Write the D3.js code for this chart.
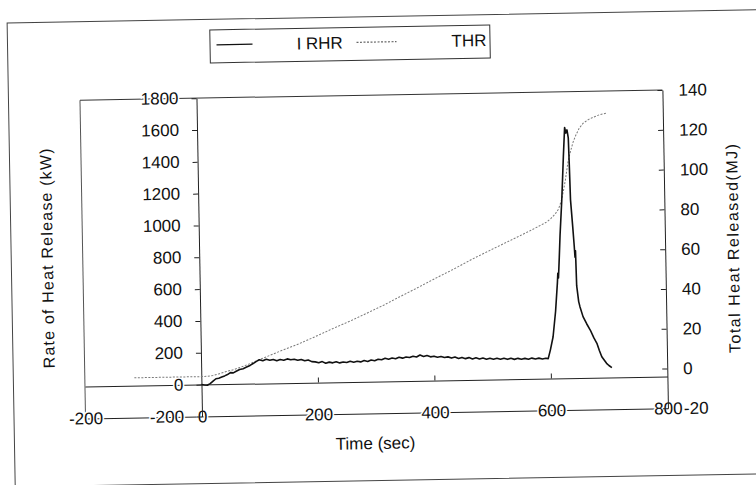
<!DOCTYPE html>
<meta charset="utf-8">
<script src="https://d3js.org/d3.v7.min.js"></script>
<style>
  body { margin: 0; background: #fff; }
  text { font-family: "Liberation Sans", Arial, sans-serif; fill: #111; }
</style>
<body>
<div id="chart"></div>
<script>
// heat release test data
var rhrTime = [0, 5, 10, 15, 20, 25, 30, 35, 40, 45, 50, 55, 60, 66, 72, 78, 84, 90, 95,
  100, 106, 112, 118, 124, 130, 136, 142, 148, 154, 160, 166, 172, 178, 184, 190, 196,
  202, 208, 214, 220, 226, 232, 238, 244, 250, 256, 262, 268, 274, 280, 286, 292, 298,
  304, 310, 316, 322, 328, 334, 340, 346, 352, 358, 364, 370, 376, 382, 388, 394, 400,
  406, 412, 418, 424, 430, 436, 442, 448, 454, 460, 466, 472, 478, 484, 490, 496, 502,
  508, 514, 520, 526, 532, 538, 544, 550, 556, 562, 568, 574, 580, 586, 592, 596,
  600, 605, 610, 614, 615, 616, 618, 620, 624, 628, 631, 633, 635, 637, 638, 639, 642,
  644, 645, 646, 647, 650, 652, 657, 663, 669, 675, 680, 684, 688, 692, 696, 700, 705];
var rhrValue = [0, -3, -5, 5, 20, 35, 38, 45, 52, 60, 72, 70, 80, 90, 95, 105, 115, 128, 140,
  150, 143, 152, 145, 150, 141, 149, 144, 152, 146, 149, 142, 147, 138, 143, 132, 130,
  124, 131, 120, 127, 122, 129, 121, 126, 123, 130, 124, 129, 125, 133, 127, 136, 131,
  140, 136, 145, 139, 146, 141, 150, 144, 151, 147, 155, 150, 162, 152, 158, 149, 153,
  146, 150, 143, 147, 139, 145, 136, 142, 134, 140, 131, 138, 130, 136, 128, 134, 127,
  133, 126, 132, 125, 131, 124, 130, 124, 129, 123, 130, 124, 129, 123, 128, 125,
  180, 262, 420, 600, 660, 630, 760, 900, 1120, 1392, 1575, 1540, 1560, 1510, 1330, 1120, 950,
  830, 760, 800, 580, 480, 448, 385, 340, 300, 250, 216, 170, 131, 110, 89, 75, 62];

var thrTime = [-115, -60, 0, 10, 20, 30, 43, 55, 67, 84, 101, 135, 170, 200, 228, 257, 286,
  315, 343, 372, 401, 435, 468, 507, 546, 572, 597, 605, 612, 618, 623, 627, 631, 636,
  640, 645, 650, 656, 663, 672, 681, 692, 704];
var thrValue = [0, 0, 0, 0.1, 0.5, 1.2, 2.3, 3.2, 4.3, 6.1, 8.1, 12.0, 15.8, 19.5, 23.1, 26.6, 30.4,
  34.3, 38.4, 42.5, 46.8, 51.6, 56.6, 62.0, 67.3, 70.9, 74.6, 76.5, 78.5, 81, 85, 90, 96, 105,
  109.5, 114.5, 118, 121.5, 124, 125.8, 127, 128.2, 128.9];

var xTicks = [-200, 0, 200, 400, 600, 800];
var leftTicks = [-200, 0, 200, 400, 600, 800, 1000, 1200, 1400, 1600, 1800];
var rightTicks = [-20, 0, 20, 40, 60, 80, 100, 120, 140];

var W = 756, H = 485;
var plain = function(d) { return String(d); };

var svg = d3.select("#chart").append("svg")
    .attr("width", W)
    .attr("height", H)
    .style("display", "block");

svg.append("rect").attr("width", W).attr("height", H).attr("fill", "#fff");

// the scan is tilted by about one degree
var g = svg.append("g").attr("transform", "rotate(-1 378 242)");

// outer chart border
g.append("rect")
    .attr("x", 11).attr("y", 16.5)
    .attr("width", 765).attr("height", 464)
    .attr("fill", "none").attr("stroke", "#444");

var x = d3.scaleLinear().domain([-200, 800]).range([82.5, 665]);
var yL = d3.scaleLinear().domain([-200, 1800]).range([413.3, 95]);
var yR = d3.scaleLinear().domain([-20, 140]).range([413.3, 95]);

// frame: top and left edges
g.append("line")
    .attr("x1", x(-200)).attr("x2", x(800))
    .attr("y1", yL(1800)).attr("y2", yL(1800))
    .attr("stroke", "#333");
g.append("line")
    .attr("x1", x(-200)).attr("x2", x(-200))
    .attr("y1", yL(-200)).attr("y2", yL(1800))
    .attr("stroke", "#555");

function styleAxis(sel) {
  sel.selectAll("path, line").attr("stroke", "#222");
  sel.selectAll("text")
      .attr("font-size", 17)
      .attr("font-family", '"Liberation Sans", Arial, sans-serif')
      .attr("fill", "#111");
}

// zero line with time ticks
var zeroAxis = g.append("g")
    .attr("transform", "translate(0," + yL(0) + ")")
    .call(d3.axisTop(x).tickValues([200, 400, 600]).tickSize(5).tickSizeOuter(0).tickFormat(""));
styleAxis(zeroAxis);

// bottom edge with time labels sitting on it
var bottomAxis = g.append("g")
    .attr("transform", "translate(0," + yL(-200) + ")")
    .call(d3.axisBottom(x).tickValues(xTicks).tickSize(0).tickSizeOuter(0).tickFormat(plain));
styleAxis(bottomAxis);
bottomAxis.selectAll("text")
    .attr("y", 0).attr("dy", "0.35em")
    .attr("stroke", "#fff").attr("stroke-width", 3).attr("paint-order", "stroke");

// left axis at t = 0
var leftAxis = g.append("g")
    .attr("transform", "translate(" + x(0) + ",0)")
    .call(d3.axisLeft(yL).tickValues(leftTicks).tickSize(5).tickSizeOuter(0).tickPadding(13).tickFormat(plain));
styleAxis(leftAxis);
leftAxis.selectAll("text")
    .attr("dy", "0.3em")
    .attr("stroke", "#fff").attr("stroke-width", 3).attr("paint-order", "stroke");

// right axis (THR)
var rightAxis = g.append("g")
    .attr("transform", "translate(" + x(800) + ",0)")
    .call(d3.axisRight(yR).tickValues(rightTicks).tickSize(-5).tickSizeOuter(0).tickPadding(16).tickFormat(plain));
styleAxis(rightAxis);
rightAxis.selectAll("text").attr("dy", "0.33em");

// series
var rhrData = d3.zip(rhrTime, rhrValue);
var thrData = d3.zip(thrTime, thrValue);

g.append("path")
    .datum(thrData)
    .attr("fill", "none")
    .attr("stroke", "#7a7a7a")
    .attr("stroke-width", 1)
    .attr("stroke-dasharray", "2,1.5")
    .attr("d", d3.line().x(function(d) { return x(d[0]); }).y(function(d) { return yR(d[1]); }));

g.append("path")
    .datum(rhrData)
    .attr("fill", "none")
    .attr("stroke", "#111")
    .attr("stroke-width", 1.6)
    .attr("stroke-linejoin", "round")
    .attr("d", d3.line().x(function(d) { return x(d[0]); }).y(function(d) { return yL(d[1]); }));

// axis titles
g.append("text")
    .attr("transform", "translate(47,252) rotate(-90)")
    .attr("text-anchor", "middle")
    .attr("dy", "0.35em")
    .attr("font-size", 16)
    .attr("letter-spacing", "1.2px")
    .text("Rate of Heat Release (kW)");

g.append("text")
    .attr("transform", "translate(733,254) rotate(-90)")
    .attr("text-anchor", "middle")
    .attr("dy", "0.35em")
    .attr("font-size", 16)
    .attr("letter-spacing", "1.5px")
    .text("Total Heat Released(MJ)");

g.append("text")
    .attr("x", 372).attr("y", 443)
    .attr("text-anchor", "middle")
    .attr("dy", "0.35em")
    .attr("font-size", 17)
    .text("Time (sec)");

// legend
var legend = g.append("g");
legend.append("rect")
    .attr("x", 213.5).attr("y", 27)
    .attr("width", 280).attr("height", 33)
    .attr("fill", "#fff").attr("stroke", "#333");
legend.append("line")
    .attr("x1", 220).attr("x2", 256).attr("y1", 42).attr("y2", 42)
    .attr("stroke", "#111").attr("stroke-width", 1.2);
legend.append("text")
    .attr("x", 300).attr("y", 48)
    .attr("font-size", 17)
    .text("I RHR");
legend.append("line")
    .attr("x1", 360).attr("x2", 400).attr("y1", 42).attr("y2", 42)
    .attr("stroke", "#666").attr("stroke-width", 1.2)
    .attr("stroke-dasharray", "2,1.5");
legend.append("text")
    .attr("x", 455).attr("y", 48)
    .attr("font-size", 17)
    .text("THR");
</script>
</body>
